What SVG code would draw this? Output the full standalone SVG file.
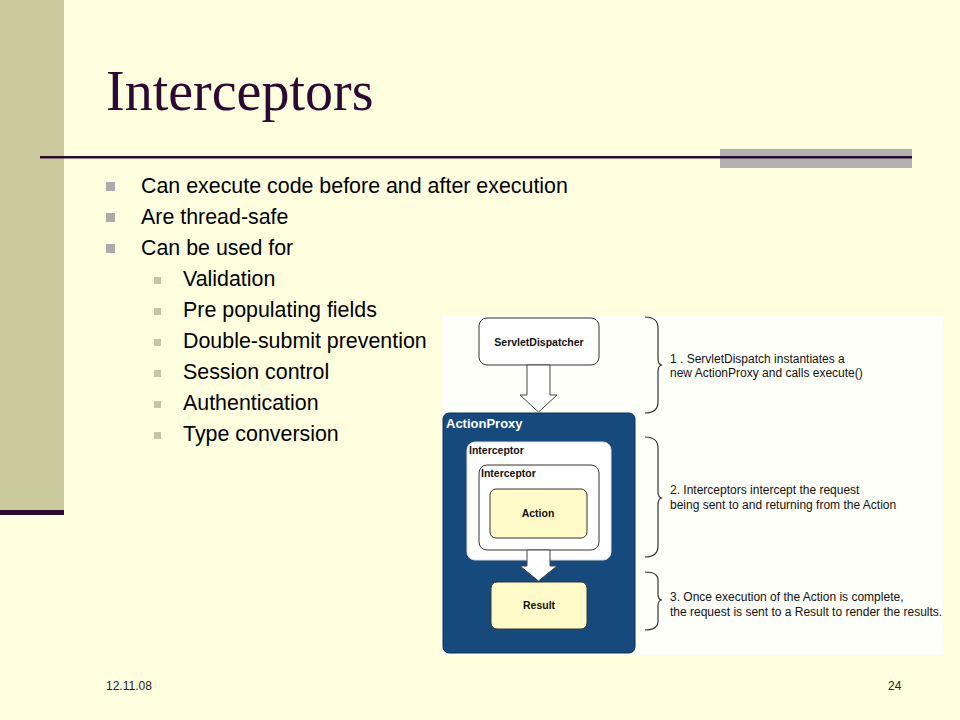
<svg xmlns="http://www.w3.org/2000/svg" width="960" height="720" viewBox="0 0 960 720">
<defs>
<style>
.bg{fill:#FFFFE0}
.side{fill:#CACA9C}
.purple{fill:#2E0A33}
.title{font-family:"Liberation Serif","Times New Roman",serif;font-size:56px;fill:#2E0A33}
.b1{font-family:"Liberation Sans",Arial,sans-serif;font-size:21.4px;fill:#000}
.sq1{fill:#ABABAB}
.sq2{fill:#C6C6A6}
.foot{font-family:"Liberation Sans",Arial,sans-serif;font-size:12px;fill:#222}
.lbl{font-family:"Liberation Sans",Arial,sans-serif;font-size:10.5px;font-weight:bold;fill:#111}
.note{font-family:"Liberation Sans",Arial,sans-serif;font-size:12px;fill:#111}
.box{stroke:#333;stroke-width:1}
.arrow{fill:#FFFFFF;stroke:#444;stroke-width:1}
.brace{fill:none;stroke:#333;stroke-width:1.2}
</style>
</defs>
<rect class="bg" x="0" y="0" width="960" height="720"/>
<rect class="side" x="0" y="0" width="64" height="510"/>
<rect class="purple" x="0" y="510" width="64" height="5"/>
<text class="title" x="106" y="110">Interceptors</text>
<rect x="720" y="149" width="192" height="19" fill="#B2B2B2"/>
<rect class="purple" x="40" y="156" width="872" height="2.5"/>

<g id="bullets">
<rect class="sq1" x="106" y="182" width="9" height="9"/>
<text class="b1" x="141" y="193">Can execute code before and after execution</text>
<rect class="sq1" x="106" y="213" width="9" height="9"/>
<text class="b1" x="141" y="224">Are thread-safe</text>
<rect class="sq1" x="106" y="244" width="9" height="9"/>
<text class="b1" x="141" y="255">Can be used for</text>
<rect class="sq2" x="154" y="277" width="7" height="7"/>
<text class="b1" x="183" y="286">Validation</text>
<rect class="sq2" x="154" y="308" width="7" height="7"/>
<text class="b1" x="183" y="317">Pre populating fields</text>
<rect class="sq2" x="154" y="339" width="7" height="7"/>
<text class="b1" x="183" y="348">Double-submit prevention</text>
<rect class="sq2" x="154" y="370" width="7" height="7"/>
<text class="b1" x="183" y="379">Session control</text>
<rect class="sq2" x="154" y="401" width="7" height="7"/>
<text class="b1" x="183" y="410">Authentication</text>
<rect class="sq2" x="154" y="432" width="7" height="7"/>
<text class="b1" x="183" y="441">Type conversion</text>
</g>

<rect x="442" y="316" width="501" height="339" fill="#FFFFFA"/>

<g id="ServletDispatcher">
<rect class="box" x="479" y="318" width="120" height="47" rx="8" fill="#FFFFFF"/>
<text class="lbl" x="539" y="346" text-anchor="middle">ServletDispatcher</text>
</g>

<g id="ActionProxy">
<rect x="443" y="413" width="192" height="240" rx="6" fill="#174A7C" stroke="#0E2F50" stroke-width="1"/>
<text class="lbl" x="446" y="428" style="font-size:13px;fill:#FFFFFF">ActionProxy</text>
</g>

<g id="InterceptorOuter">
<rect x="467" y="442" width="144" height="118" rx="8" fill="#FFFFFF" stroke="#DDDDDD" stroke-width="1"/>
<text class="lbl" x="469" y="454">Interceptor</text>
</g>

<g id="InterceptorInner">
<rect class="box" x="479" y="465" width="120" height="85" rx="8" fill="#FFFFFF" stroke="#555"/>
<text class="lbl" x="481" y="477">Interceptor</text>
</g>

<g id="Action">
<rect class="box" x="490" y="489" width="97" height="49" rx="6" fill="#FFFBC8"/>
<text class="lbl" x="538" y="517" text-anchor="middle">Action</text>
</g>

<g id="Result">
<rect class="box" x="491" y="582" width="96" height="47" rx="6" fill="#FFFBC8"/>
<text class="lbl" x="539" y="609" text-anchor="middle">Result</text>
</g>

<g id="connectors">
<path class="arrow" d="M527,365 L550,365 L550,395 L557,395 L538.5,412 L520,395 L527,395 Z"/>
<path class="arrow" d="M527,550 L550,550 L550,566 L557,566 L538.5,581 L520,566 L527,566 Z"/>
</g>

<g id="annotations">
<path class="brace" d="M645,317 Q658,317 658,328 L658,358 Q658,365 662,365 Q658,365 658,372 L658,402 Q658,413 645,413"/>
<path class="brace" d="M645,437 Q658,437 658,448 L658,491 Q658,498 662,498 Q658,498 658,505 L658,546 Q658,557 645,557"/>
<path class="brace" d="M645,572 Q658,572 658,580 L658,594 Q658,600 662,600 Q658,600 658,606 L658,621 Q658,630 645,630"/>
<text class="note" x="670" y="363">1 . ServletDispatch instantiates a</text>
<text class="note" x="670" y="377">new ActionProxy and calls execute()</text>
<text class="note" x="670" y="494">2. Interceptors intercept the request</text>
<text class="note" x="670" y="509">being sent to and returning from the Action</text>
<text class="note" x="670" y="601">3. Once execution of the Action is complete,</text>
<text class="note" x="670" y="616">the request is sent to a Result to render the results.</text>
</g>

<text class="foot" x="106" y="690">12.11.08</text>
<text class="foot" x="888" y="690">24</text>
</svg>
